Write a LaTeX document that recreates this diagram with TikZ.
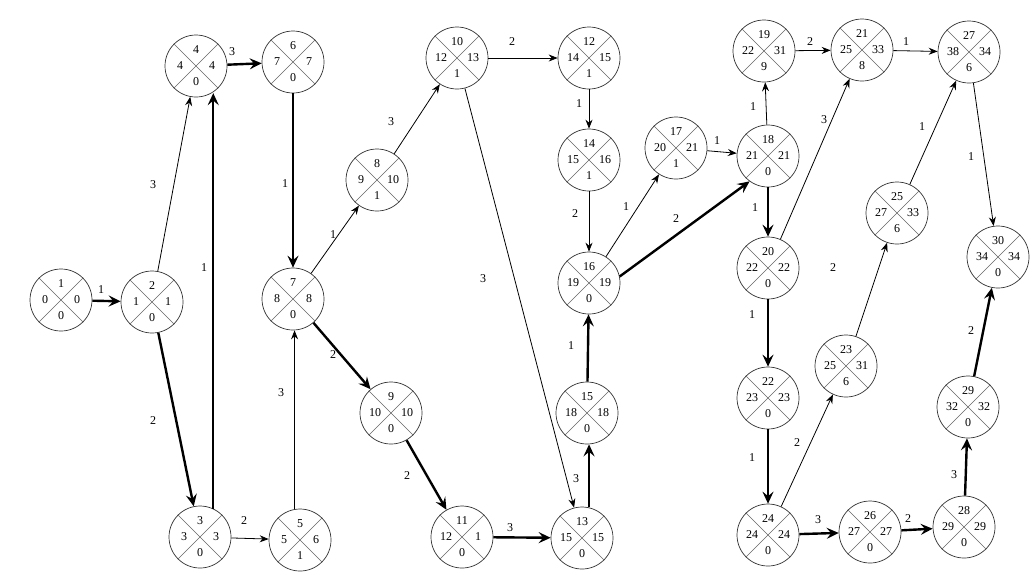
\documentclass[tikz,border=0pt]{standalone}
\usepackage{fontspec}
\setmainfont{Liberation Serif}
\usetikzlibrary{arrows.meta,calc}
\tikzset{
  pcirc/.style={circle,draw=black!80,line width=0.7pt,minimum size=62pt,inner sep=0pt},
  xline/.style={draw=black!60,line width=0.6pt},
  num/.style={inner sep=0pt,font=\fontsize{12}{12}\selectfont},
  lbl/.style={inner sep=0pt,font=\fontsize{12}{12}\selectfont},
  thinarr/.style={draw=black,line width=0.8pt,-{Stealth[length=9pt,width=7pt,inset=3pt]}},
  crit/.style={draw=black,line width=2.4pt,-{Stealth[length=12pt,width=11pt,inset=4.5pt]}}
}
\newcommand\pn[6]{%
  \node[pcirc] (#1) at (#2) {};
  \draw[xline] (#1.45)--(#1.225) (#1.135)--(#1.-45);
  \node[num] at ($(#1)+(0,-16)$) {#3};
  \node[num] at ($(#1)+(-16,0)$) {#4};
  \node[num] at ($(#1)+(16,0)$) {#5};
  \node[num] at ($(#1)+(0,16)$) {#6};
}
\begin{document}
\begin{tikzpicture}[x=1pt,y=-1pt]
\useasboundingbox[fill=white] (0,0) rectangle (1035,574);
\pn{n1}{61,300}{1}{0}{0}{0}
\pn{n2}{152,302}{2}{1}{1}{0}
\pn{n3}{200,537}{3}{3}{3}{0}
\pn{n4}{196,66}{4}{4}{4}{0}
\pn{n5}{300,540}{5}{5}{6}{1}
\pn{n6}{293,62}{6}{7}{7}{0}
\pn{n7}{293,299}{7}{8}{8}{0}
\pn{n8}{377,180}{8}{9}{10}{1}
\pn{n9}{391,413}{9}{10}{10}{0}
\pn{n10}{457,58}{10}{12}{13}{1}
\pn{n11}{462,537}{11}{12}{1}{0}
\pn{n12}{589,58}{12}{14}{15}{1}
\pn{n13}{582,538}{13}{15}{15}{0}
\pn{n14}{589,160}{14}{15}{16}{1}
\pn{n15}{587,413}{15}{18}{18}{0}
\pn{n16}{589,283}{16}{19}{19}{0}
\pn{n17}{676,148}{17}{20}{21}{1}
\pn{n18}{768,156}{18}{21}{21}{0}
\pn{n19}{764,51}{19}{22}{31}{9}
\pn{n20}{768,268}{20}{22}{22}{0}
\pn{n21}{862,50}{21}{25}{33}{8}
\pn{n22}{768,398}{22}{23}{23}{0}
\pn{n23}{846,366}{23}{25}{31}{6}
\pn{n24}{768,535}{24}{24}{24}{0}
\pn{n25}{897,213}{25}{27}{33}{6}
\pn{n26}{870,532}{26}{27}{27}{0}
\pn{n27}{969,52}{27}{38}{34}{6}
\pn{n28}{964,527}{28}{29}{29}{0}
\pn{n29}{968,407}{29}{32}{32}{0}
\pn{n30}{998,257}{30}{34}{34}{0}
% connectors
\draw[crit] (n1) -- (n2) node[lbl,at={(101,290)}] {1};
\draw[thinarr] (n2) -- (n4) node[lbl,at={(153,185)}] {3};
\draw[crit] (n2) -- (n3) node[lbl,at={(153,421)}] {2};
\draw[crit] (n3.65) -- (n3.65 |- n4.-60) node[lbl,at={(204,268)}] {1};
\draw[crit] (n4) -- (n6) node[lbl,at={(232,52)}] {3};
\draw[crit] (n6) -- (n7) node[lbl,at={(285,184)}] {1};
\draw[thinarr] (n7) -- (n8) node[lbl,at={(333,235)}] {1};
\draw[thinarr] (n8) -- (n10) node[lbl,at={(391,122)}] {3};
\draw[crit] (n7) -- (n9) node[lbl,at={(333,355)}] {2};
\draw[thinarr] (n5.100) -- (n5.100 |- n7.south) node[lbl,at={(281,393)}] {3};
\draw[thinarr] (n3) -- (n5) node[lbl,at={(244,521)}] {2};
\draw[crit] (n9) -- (n11) node[lbl,at={(407,476)}] {2};
\draw[crit] (n11) -- (n13) node[lbl,at={(510,528)}] {3};
\draw[thinarr] (n10) -- (n12) node[lbl,at={(512,42)}] {2};
\draw[thinarr] (n10) -- (n13) node[lbl,at={(483,279)}] {3};
\draw[thinarr] (n12) -- (n14) node[lbl,at={(579,104)}] {1};
\draw[thinarr] (n14) -- (n16) node[lbl,at={(575,214)}] {2};
\draw[crit] (n13.77) -- (n13.77 |- n15.south) node[lbl,at={(576,479)}] {3};
\draw[crit] (n15) -- (n16) node[lbl,at={(571,346)}] {1};
\draw[thinarr] (n16) -- (n17) node[lbl,at={(626,207)}] {1};
\draw[crit] (n16.12) -- (n18.-126) node[lbl,at={(676,219)}] {2};
\draw[thinarr] (n17) -- (n18) node[lbl,at={(717,141)}] {1};
\draw[thinarr] (n18) -- (n19) node[lbl,at={(753,107)}] {1};
\draw[crit] (n18) -- (n20) node[lbl,at={(755,208)}] {1};
\draw[crit] (n20) -- (n22) node[lbl,at={(752,315)}] {1};
\draw[crit] (n22) -- (n24) node[lbl,at={(752,458)}] {1};
\draw[thinarr] (n19) -- (n21) node[lbl,at={(810,42)}] {2};
\draw[thinarr] (n20) -- (n21) node[lbl,at={(824,120)}] {3};
\draw[thinarr] (n21) -- (n27) node[lbl,at={(906,42)}] {1};
\draw[thinarr] (n24) -- (n23) node[lbl,at={(797,443)}] {2};
\draw[thinarr] (n23) -- (n25) node[lbl,at={(833,268)}] {2};
\draw[thinarr] (n25) -- (n27) node[lbl,at={(922,127)}] {1};
\draw[thinarr] (n27) -- (n30) node[lbl,at={(971,157)}] {1};
\draw[crit] (n24) -- (n26) node[lbl,at={(818,520)}] {3};
\draw[crit] (n26) -- (n28) node[lbl,at={(908,519)}] {2};
\draw[crit] (n28) -- (n29) node[lbl,at={(954,475)}] {3};
\draw[crit] (n29) -- (n30) node[lbl,at={(971,331)}] {2};
\end{tikzpicture}
\end{document}
